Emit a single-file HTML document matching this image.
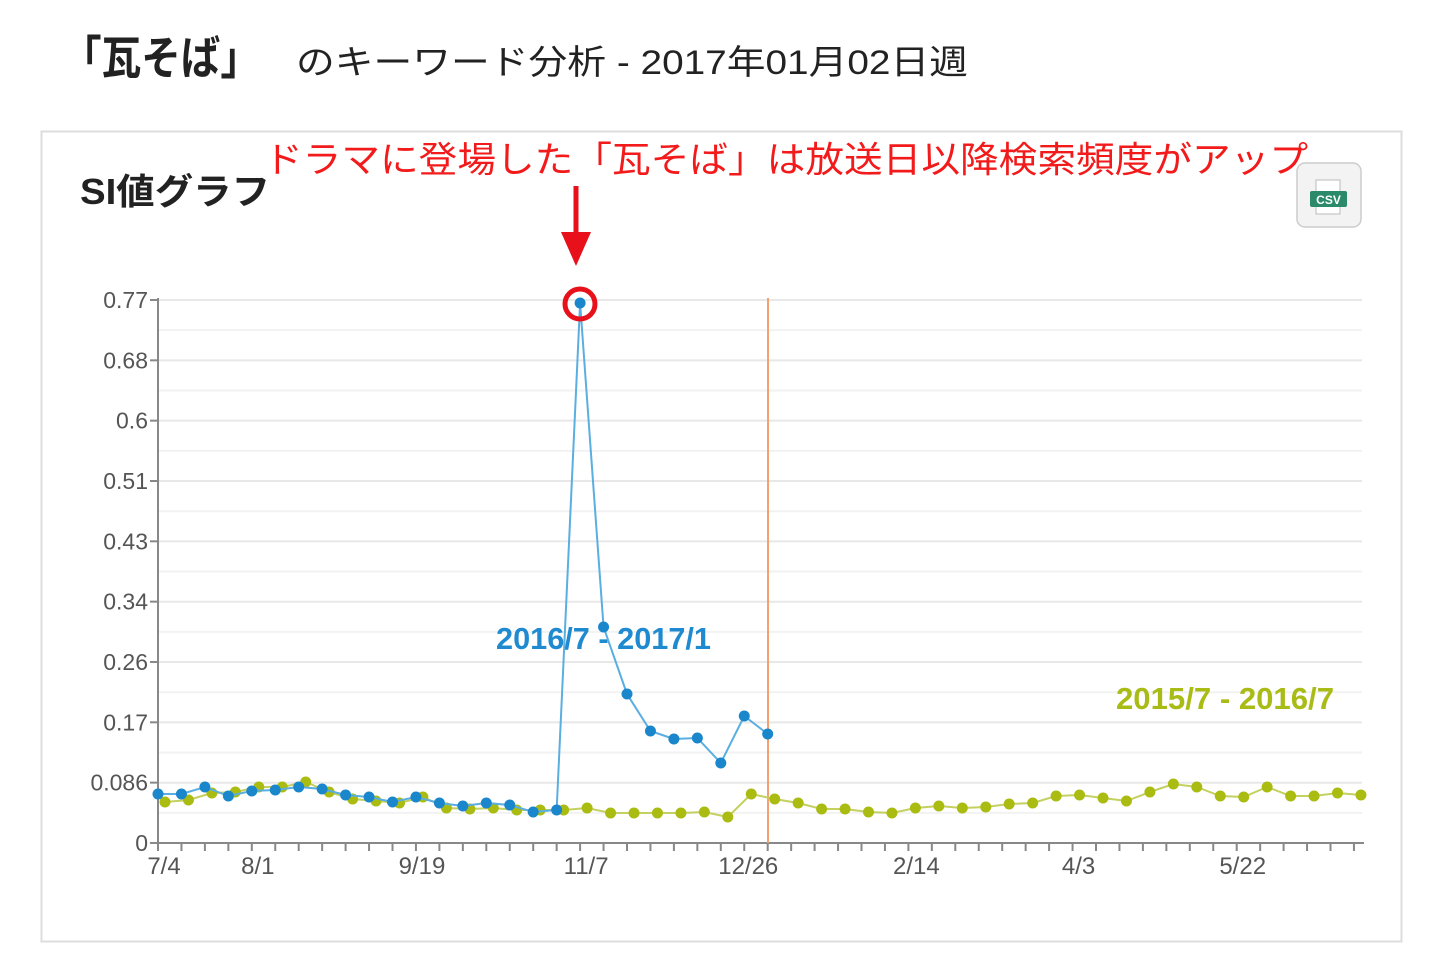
<!DOCTYPE html>
<html><head><meta charset="utf-8"><style>
html,body{margin:0;padding:0;background:#fff;width:1440px;height:979px;overflow:hidden}
svg{display:block}
text{font-family:"Liberation Sans","Noto Sans CJK JP",sans-serif}
</style></head><body>
<svg id="s" width="1440" height="979" xmlns="http://www.w3.org/2000/svg">
<text x="62" y="74" font-size="46" font-weight="bold" fill="#222" textLength="198" lengthAdjust="spacingAndGlyphs">「瓦そば」</text>
<text x="296" y="74" font-size="34" fill="#222" textLength="672" lengthAdjust="spacingAndGlyphs">のキーワード分析 - 2017年01月02日週</text>
<rect x="41.5" y="131.5" width="1360" height="810" fill="#fff" stroke="#ddd" stroke-width="2"/>
<text x="80" y="204" font-size="36" font-weight="bold" fill="#222" textLength="190" lengthAdjust="spacingAndGlyphs">SI値グラフ</text>
<text x="264" y="172" font-size="36" fill="#f21a1a" textLength="1044" lengthAdjust="spacingAndGlyphs">ドラマに登場した「瓦そば」は放送日以降検索頻度がアップ</text>
<rect x="1297" y="163" width="64" height="64" rx="8" fill="#f3f3f3" stroke="#ccc" stroke-width="1.5"/>
<rect x="1316" y="180" width="24" height="34" fill="#fff" stroke="#bbb"/>
<rect x="1310" y="191" width="37" height="16" rx="2" fill="#2a8a6a"/>
<text x="1328.5" y="204" font-size="12" font-weight="bold" fill="#fff" text-anchor="middle">CSV</text>
<g id="grid"></g>
<line x1="768" y1="298" x2="768" y2="843" stroke="#f4a070" stroke-width="2"/>
<text x="496" y="649" font-size="31" font-weight="bold" fill="#1f8ad0" textLength="215" lengthAdjust="spacingAndGlyphs">2016/7 - 2017/1</text>
<text x="1116" y="709" font-size="31" font-weight="bold" fill="#a9bb15" textLength="218" lengthAdjust="spacingAndGlyphs">2015/7 - 2016/7</text>
<g id="series"></g>
<circle cx="580" cy="304" r="15" fill="none" stroke="#e8101a" stroke-width="5"/>
<line x1="576" y1="186" x2="576" y2="240" stroke="#e8101a" stroke-width="5"/>
<polygon points="561,232 591,232 576,266" fill="#e8101a"/>
</svg>
<script>
var NS="http://www.w3.org/2000/svg",g=document.getElementById('grid'),se=document.getElementById('series');
function el(p,t,a){var e=document.createElementNS(NS,t);for(var k in a)e.setAttribute(k,a[k]);p.appendChild(e);return e;}
for(var i=0;i<18;i++){var y=300+i*30.17;el(g,'line',{x1:158,x2:1362,y1:y,y2:y,stroke:i%2?'#f2f2f2':'#e8e8e8','stroke-width':2});}
el(g,'line',{x1:158,x2:158,y1:298,y2:843,stroke:'#888','stroke-width':2});
el(g,'line',{x1:158,x2:1364,y1:843,y2:843,stroke:'#888','stroke-width':2});
var yl=["0.77","0.68","0.6","0.51","0.43","0.34","0.26","0.17","0.086","0"];
for(var i=0;i<10;i++){var y=300+i*60.33;el(g,'line',{x1:150,x2:158,y1:y,y2:y,stroke:'#888','stroke-width':2});
var t=el(g,'text',{x:148,y:y+8,'font-size':23,fill:'#555','text-anchor':'end'});t.textContent=yl[i];}
for(var i=0;i<52;i++){var x=158+i*23.45;el(g,'line',{x1:x,x2:x,y1:843,y2:851,stroke:'#888','stroke-width':2});}
var xl=[[0,"7/4"],[4,"8/1"],[11,"9/19"],[18,"11/7"],[25,"12/26"],[32,"2/14"],[39,"4/3"],[46,"5/22"]];
xl.forEach(function(a){var t=el(g,'text',{x:158+a[0]*23.45+(a[0]==25?4:(a[0]==32?8:(a[0]==39?6:6))),y:874,'font-size':24,fill:'#555','text-anchor':'middle'});t.textContent=a[1];});
var gr=[802,800,793,792,787,787,782,792,799,801,803,797,808,809,808,810,810,810,808,813,813,813,813,812,817,794,799,803,809,809,812,813,808,806,808,807,804,803,796,795,798,801,792,784,787,796,797,787,796,796,793,795];
var bl=[794,794,787,796,791,790,787,789,795,797,802,797,803,806,803,805,812,810,303,627,694,731,739,738,763,716,734];
function draw(arr,x0,c,lc){var p=arr.map(function(y,i){return (x0+i*23.45)+','+y;}).join(' ');
el(se,'polyline',{points:p,fill:'none',stroke:lc,'stroke-width':2});
arr.forEach(function(y,i){el(se,'circle',{cx:x0+i*23.45,cy:y,r:5.5,fill:c});});}
draw(gr,165,'#aabb11','#c4d060');
draw(bl,158,'#1a86cc','#5aaee0');
</script>
</body></html>
